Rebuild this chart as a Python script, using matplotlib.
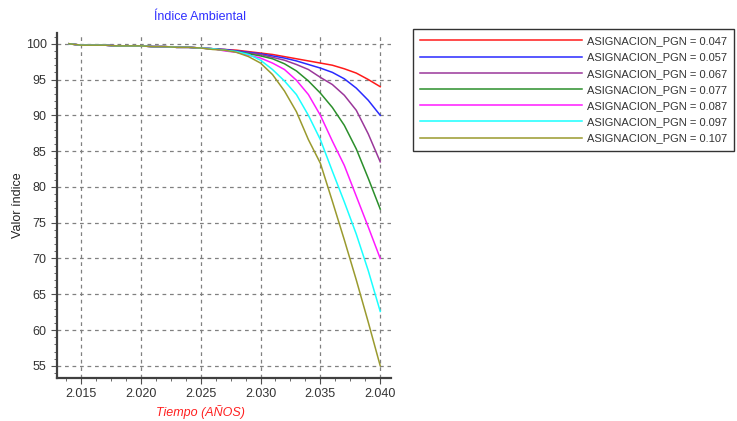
import numpy as np
import matplotlib
matplotlib.use("Agg")
import matplotlib.pyplot as plt
from matplotlib.ticker import MultipleLocator, FuncFormatter

plt.rcParams['font.family'] = ['Liberation Sans', 'DejaVu Sans']

# años 2014..2040
anios = list(range(2014, 2041))

# tramo común 2014-2025
comun = [100.0, 99.8, 99.8, 99.8, 99.7, 99.7, 99.7, 99.6, 99.6, 99.5, 99.5, 99.4]

# 2026..2040 para cada asignación
pgn_047 = [99.3, 99.2, 99.1, 98.9, 98.7, 98.5, 98.2, 97.9, 97.6, 97.3, 97.0, 96.5, 95.9, 95.0, 94.0]
pgn_057 = [99.3, 99.2, 99.0, 98.8, 98.6, 98.3, 98.0, 97.6, 97.1, 96.6, 96.0, 95.1, 93.8, 92.1, 90.0]
pgn_067 = [99.3, 99.1, 98.9, 98.7, 98.5, 98.1, 97.7, 97.1, 96.4, 95.3, 94.3, 92.8, 90.7, 87.4, 83.5]
pgn_077 = [99.3, 99.1, 98.9, 98.6, 98.3, 97.9, 97.2, 96.2, 94.8, 93.1, 91.1, 88.6, 85.3, 81.2, 76.9]
pgn_087 = [99.3, 99.0, 98.8, 98.4, 98.0, 97.3, 96.4, 94.9, 92.9, 90.0, 86.4, 83.0, 78.7, 74.4, 70.0]
pgn_097 = [99.3, 99.1, 98.9, 98.5, 97.7, 96.4, 94.8, 92.9, 90.0, 86.6, 82.2, 77.9, 73.4, 68.3, 62.6]
pgn_107 = [99.2, 99.1, 98.8, 98.2, 97.3, 95.7, 93.4, 90.5, 86.6, 83.3, 78.0, 72.6, 67.0, 61.1, 55.0]

asignaciones = ['0.047', '0.057', '0.067', '0.077', '0.087', '0.097', '0.107']
series = [pgn_047, pgn_057, pgn_067, pgn_077, pgn_087, pgn_097, pgn_107]
colores = ['#ff1a1a', '#2a2aff', '#9a379a', '#2b8f2b', '#ff1aff', '#1affff', '#9a9a2e']

fig = plt.figure(figsize=(7.37, 4.21), dpi=100)
ax = fig.add_axes([57/737, 1-378/421, (391-57)/737, (378-33)/421])

for s, c, a in zip(series, colores, asignaciones):
    ax.plot(anios, comun + s, color=c, lw=1.1, label='ASIGNACION_PGN = ' + a)

ax.set_xlim(2013.0, 2040.9)
ax.set_ylim(53.3, 101.5)
ax.xaxis.set_major_locator(MultipleLocator(5))
ax.xaxis.set_minor_locator(MultipleLocator(1.25))
ax.yaxis.set_major_locator(MultipleLocator(5))
ax.yaxis.set_minor_locator(MultipleLocator(1))
ax.xaxis.set_major_formatter(FuncFormatter(lambda v, p: f"{int(round(v)):,}".replace(',', '.')))

ax.grid(True, which='major', color='#808080', ls=(0, (3, 3)), lw=0.9)
for side in ['top', 'right']:
    ax.spines[side].set_visible(False)
for side in ['left', 'bottom']:
    ax.spines[side].set_color('#404040')
    ax.spines[side].set_linewidth(1.6)
ax.tick_params(which='major', length=4, color='#505050', labelsize=9, labelcolor='#333333')
ax.tick_params(which='minor', length=2.5, color='#505050')

fig.text(200/737, 1-17/421, 'Índice Ambiental', color='#3030ff', fontsize=9, ha='center', va='center')
fig.text(200/737, 1-412/421, 'Tiempo (AÑOS)', color='#ff2020', fontsize=9, style='italic', ha='center', va='center')
fig.text(18/737, 1-205/421, 'Valor índice', color='#222222', fontsize=9, rotation=90, ha='center', va='center')

leg = ax.legend(loc='upper left', bbox_to_anchor=(413/737, 1-29/421), bbox_transform=fig.transFigure,
                borderaxespad=0, fontsize=8.0, handlelength=14.6, labelspacing=0.56,
                fancybox=False, framealpha=1, borderpad=0.65, handletextpad=0.4)
leg.get_frame().set_edgecolor('#333333')
leg.get_frame().set_linewidth(1.0)
for t in leg.get_texts():
    t.set_color('#333333')

fig.savefig('out.png', dpi=100)
